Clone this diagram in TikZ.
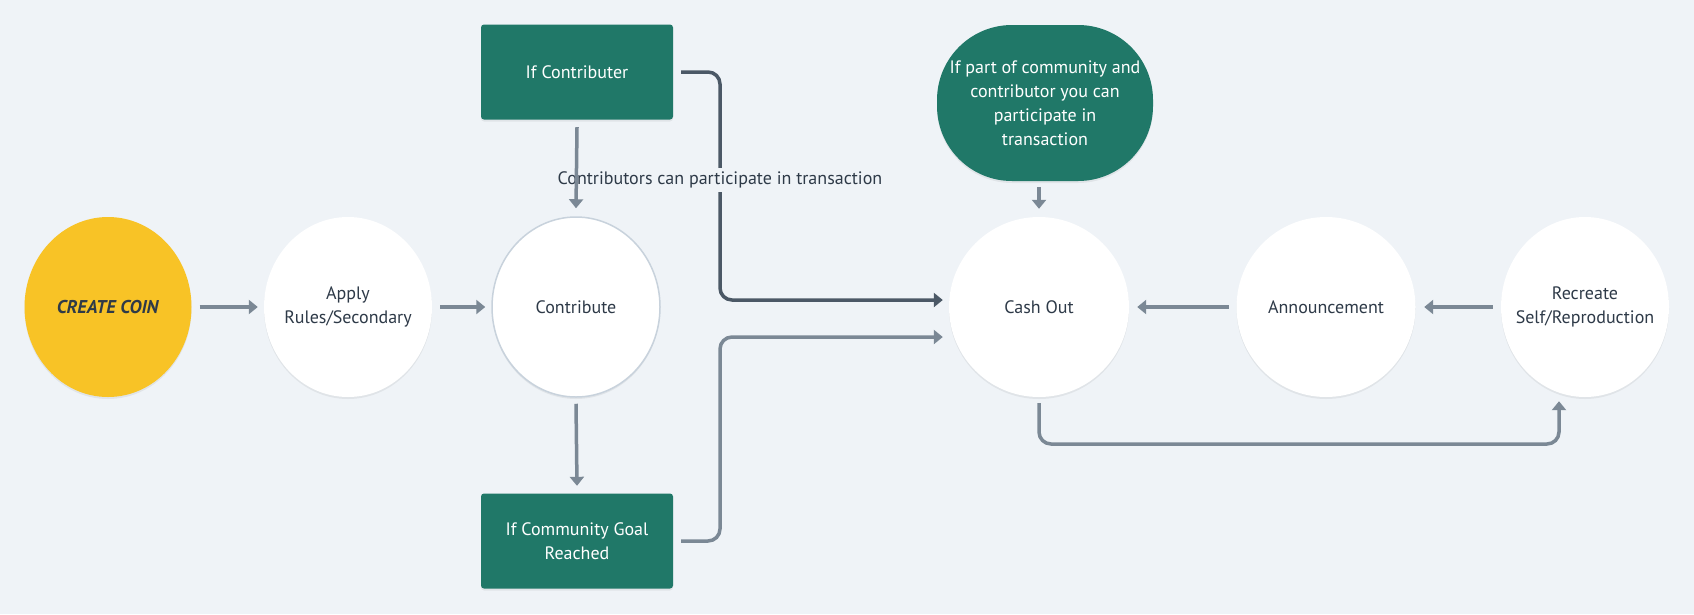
\documentclass[tikz,border=0pt]{standalone}
\usepackage{fontspec}
\setmainfont{PT Sans}
\usetikzlibrary{shapes.geometric,arrows.meta,shadows}
\definecolor{bg}{HTML}{EFF3F7}
\definecolor{coin}{HTML}{F8C326}
\definecolor{tealg}{HTML}{207868}
\definecolor{ink}{HTML}{2E3A48}
\definecolor{arr}{HTML}{7B8895}
\definecolor{darr}{HTML}{4B5866}
\definecolor{rim}{HTML}{C8D2DC}
\begin{document}
\begin{tikzpicture}[x=1pt,y=-1pt,
  every node/.style={font=\fontsize{18}{24}\selectfont, text=ink, align=center},
  shad/.style={drop shadow={shadow xshift=0pt, shadow yshift=-2pt, opacity=.06, fill=black}},
  circ/.style={ellipse, fill=white, minimum width=168pt, minimum height=180pt, inner sep=-25pt, shad},
  box/.style={rectangle, rounded corners=3pt, fill=tealg, text=white, minimum width=192pt, minimum height=95pt, shad},
  conn/.style={draw=arr, line width=3.5pt, -{Triangle[width=14pt,length=9pt]}, rounded corners=12pt},
  dconn/.style={conn, draw=darr}]
\fill[bg] (0,0) rectangle (1694,614);
\useasboundingbox (0,0) rectangle (1694,614);

\node[circ, fill=coin, minimum width=167pt] (coin) at (108,307) {\fontsize{18.5}{24}\selectfont\textbf{\textit{CREATE COIN}}};
\node[circ] (apply) at (348,307) {Apply\\Rules/Secondary};
\node[circ, draw=rim, line width=1.5pt] (contrib) at (576,307) {Contribute};
\node[box] (ifc) at (577,72) {If Contributer};
\node[box] (goal) at (577,541) {If Community Goal\\Reached};
\node[circ, minimum width=180pt] (cash) at (1039,307) {Cash Out};
\node[circ, minimum width=179pt] (ann) at (1326,307) {Announcement};
\node[circ] (rec) at (1585,307) {Recreate\\Self/Reproduction};
\node[rectangle, rounded corners=75pt, fill=tealg, text=white, minimum width=216pt, minimum height=156pt, inner sep=0pt, shad] (part) at (1045,103) {If part of community and\\contributor you can\\participate in\\transaction};

\coordinate (j1) at (720,0);
\coordinate (low) at (0,444);
\coordinate (cin1) at ([xshift=-6pt,yshift=7pt]cash.west);
\coordinate (cin2) at ([xshift=-6pt,yshift=-30pt]cash.west);
\coordinate (rin) at ([xshift=-26pt,yshift=-4pt]rec.south);
\coordinate (ptop) at (cash.north |- part.south);

\draw[conn] ([xshift=8pt]coin.east) -- ([xshift=-6pt]apply.west);
\draw[conn] ([xshift=8pt]apply.east) -- ([xshift=-6pt]contrib.west);
\draw[conn] ([yshift=-6pt]contrib.south) -- ([yshift=7.5pt]goal.north);
\draw[dconn] ([xshift=8pt]ifc.east) -| (j1 |- cin1) -- (cin1);
\draw[conn] ([xshift=8pt]goal.east) -| (j1 |- cin2) -- (cin2);
\draw[conn] ([yshift=-6pt]ptop) -- ([yshift=8pt]cash.north);
\draw[conn] ([xshift=-7.5pt]ann.west) -- ([xshift=8pt]cash.east);
\draw[conn] ([xshift=-8pt]rec.west) -- ([xshift=8.5pt]ann.east);
\draw[conn] ([yshift=-6pt]cash.south) |- (low -| rin) -- (rin);

\node[fill=bg, inner xsep=1pt, inner ysep=4pt] (lbl) at (720,180) {Contributors can participate in transaction};
\draw[conn] ([yshift=-7.5pt]ifc.south) -- ([yshift=8pt]contrib.north);
\end{tikzpicture}
\end{document}
